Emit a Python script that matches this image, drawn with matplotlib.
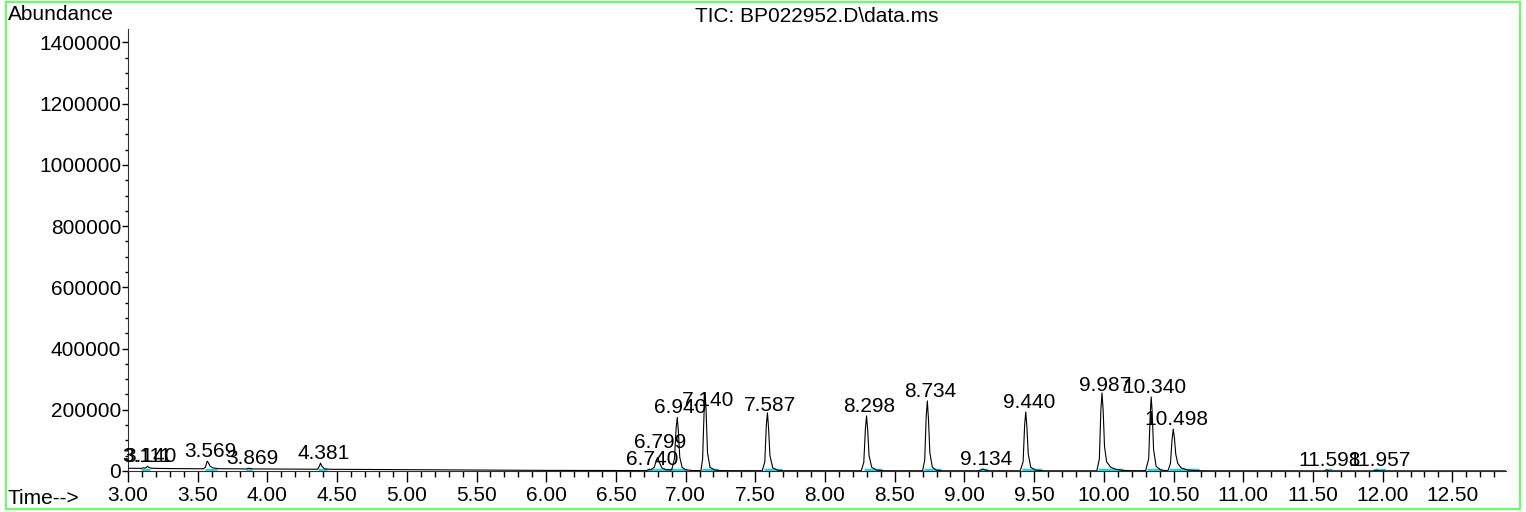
import numpy as np
import matplotlib
matplotlib.use('Agg')
import matplotlib.pyplot as plt
from matplotlib.patches import Rectangle
from matplotlib.ticker import MultipleLocator, FormatStrFormatter

plt.rcParams['font.family'] = ['Liberation Sans', 'DejaVu Sans']

# integrated peaks: retention time label and apex abundance
peak_rt = ['3.111', '3.140', '3.569', '3.869', '4.381', '6.740', '6.799', '6.940', '7.140',
           '7.587', '8.298', '8.734', '9.134', '9.440', '9.987', '10.340', '10.498',
           '11.598', '11.957']
peak_height = [10500, 15500, 32000, 9000, 26000, 5500, 44000, 175000, 256000,
               190000, 180000, 229000, 6500, 193000, 255000, 242000, 137000,
               3500, 2500]

# integration baselines (start, end) in minutes
seg_start = [3.09, 3.55, 3.85, 4.36, 6.72, 6.83, 7.12, 7.56, 8.28, 8.71, 9.11, 9.41,
             9.96, 10.31, 10.47, 11.59, 11.93]
seg_end = [3.16, 3.64, 3.89, 4.43, 6.83, 7.01, 7.23, 7.69, 8.41, 8.83, 9.17, 9.56,
           10.14, 10.42, 10.68, 11.64, 12.02]

# TIC trace
trace_time = [3.00, 3.05, 3.09, 3.105, 3.111, 3.12, 3.13, 3.14, 3.15, 3.17, 3.25, 3.35,
              3.45, 3.54, 3.555, 3.565, 3.569, 3.575, 3.59, 3.61, 3.65, 3.75, 3.85,
              3.862, 3.869, 3.876, 3.89, 4.00, 4.20, 4.36, 4.372, 4.381, 4.39, 4.41,
              4.45, 4.70, 5.00, 5.30, 5.60, 6.00, 6.40, 6.72, 6.735, 6.740, 6.75,
              6.775, 6.79, 6.799, 6.81, 6.83, 6.86, 6.90, 6.92, 6.932, 6.940, 6.948,
              6.958, 6.975, 7.00, 7.05, 7.11, 7.122, 7.133, 7.140, 7.147, 7.157,
              7.175, 7.21, 7.26, 7.55, 7.568, 7.579, 7.587, 7.595, 7.605, 7.625,
              7.66, 7.70, 8.26, 8.278, 8.290, 8.298, 8.306, 8.316, 8.335, 8.37, 8.42,
              8.70, 8.715, 8.726, 8.734, 8.742, 8.752, 8.770, 8.80, 8.84, 9.10,
              9.125, 9.134, 9.143, 9.17, 9.40, 9.421, 9.432, 9.440, 9.448, 9.458,
              9.476, 9.51, 9.56, 9.95, 9.968, 9.979, 9.987, 9.995, 10.005, 10.02,
              10.05, 10.09, 10.14, 10.20, 10.30, 10.322, 10.333, 10.340, 10.347,
              10.357, 10.375, 10.41, 10.45, 10.46, 10.478, 10.490, 10.498, 10.506,
              10.516, 10.53, 10.555, 10.60, 10.66, 10.75, 11.00, 11.50, 11.58,
              11.598, 11.615, 11.94, 11.957, 11.975, 12.50, 12.88]
trace_abund = [9000, 8800, 8600, 9500, 10500, 9500, 11000, 15500, 11500, 9000, 8200, 7800,
               7400, 7200, 12000, 28000, 32000, 28000, 15000, 10000, 7500, 7000, 6800,
               8000, 9000, 8000, 6800, 6500, 6000, 5800, 15000, 26000, 16000, 7000,
               5600, 5000, 4200, 3500, 2800, 2000, 1600, 1400, 4000, 5500, 4000,
               12000, 35000, 44000, 30000, 10000, 4000, 3500, 40000, 140000, 175000, 130000,
               45000, 12000, 4000, 1500, 1300, 40000, 200000, 256000, 195000, 60000,
               12000, 3000, 1200, 1000, 30000, 150000, 190000, 140000, 50000, 10000,
               2500, 1000, 900, 28000, 140000, 180000, 135000, 50000, 12000, 3000, 900,
               800, 35000, 180000, 229000, 170000, 60000, 12000, 2500, 800, 800,
               4000, 6500, 4000, 800, 700, 30000, 150000, 193000, 145000, 55000,
               12000, 3000, 700, 700, 40000, 200000, 255000, 200000, 80000, 30000,
               12000, 5000, 2000, 1000, 1200, 40000, 190000, 242000, 190000,
               70000, 15000, 3000, 1000, 1000, 25000, 105000, 137000, 110000,
               55000, 25000, 10000, 3500, 1200, 700, 600, 500, 500,
               3500, 500, 500, 2500, 500, 400, 400]

title = 'TIC: BP022952.D\\data.ms'

fig = plt.figure(figsize=(15.26, 5.12), dpi=100)
ax = fig.add_axes([128 / 1526, 41 / 512, 1378 / 1526, 442 / 512])

ax.plot(trace_time, trace_abund, color='black', lw=0.8, zorder=3)
for s, e in zip(seg_start, seg_end):
    ax.plot([s, e], [3000, 3000], color='#22d3e6', lw=2.5, solid_capstyle='butt', zorder=2.8)

# label offsets (pixels) where the instrument shifted the text
dy_px = {'3.111': 6, '6.799': 10, '7.140': -13, '7.587': 2, '9.987': 2}
for rt, h in zip(peak_rt, peak_height):
    ax.annotate(rt, (float(rt), h), xytext=(3, dy_px.get(rt, 4)), textcoords='offset pixels',
                ha='center', va='baseline', fontsize=15, zorder=4)

ax.set_xlim(3.0, 12.885)
ax.set_ylim(0, 1444000)
ax.xaxis.set_major_locator(MultipleLocator(0.5))
ax.xaxis.set_minor_locator(MultipleLocator(0.1))
ax.xaxis.set_major_formatter(FormatStrFormatter('%.2f'))
ax.yaxis.set_major_locator(MultipleLocator(200000))
ax.yaxis.set_minor_locator(MultipleLocator(50000))
ax.yaxis.set_major_formatter(FormatStrFormatter('%d'))
ax.tick_params(axis='x', which='major', length=8, width=1, labelsize=15, pad=3)
ax.tick_params(axis='x', which='minor', length=4, width=1)
ax.tick_params(axis='y', which='major', length=4, width=1, labelsize=15, pad=1)
ax.tick_params(axis='y', which='minor', length=2, width=1)
for side in ['top', 'right']:
    ax.spines[side].set_visible(False)
for side in ['left', 'bottom']:
    ax.spines[side].set_color('#303030')

fig.text(8 / 1526, 1 - 15 / 512, 'Abundance', fontsize=15, va='center', ha='left')
fig.text(8 / 1526, 1 - 498 / 512, 'Time-->', fontsize=15, va='center', ha='left')
fig.text(817 / 1526, 1 - 16 / 512, title, fontsize=15, va='center', ha='center')

fig.add_artist(Rectangle((6 / 1526, 3 / 512), 1514 / 1526, 507 / 512, transform=fig.transFigure,
                         fill=False, edgecolor='#66ff66', lw=1.5))

fig.savefig('out.png', dpi=100)
